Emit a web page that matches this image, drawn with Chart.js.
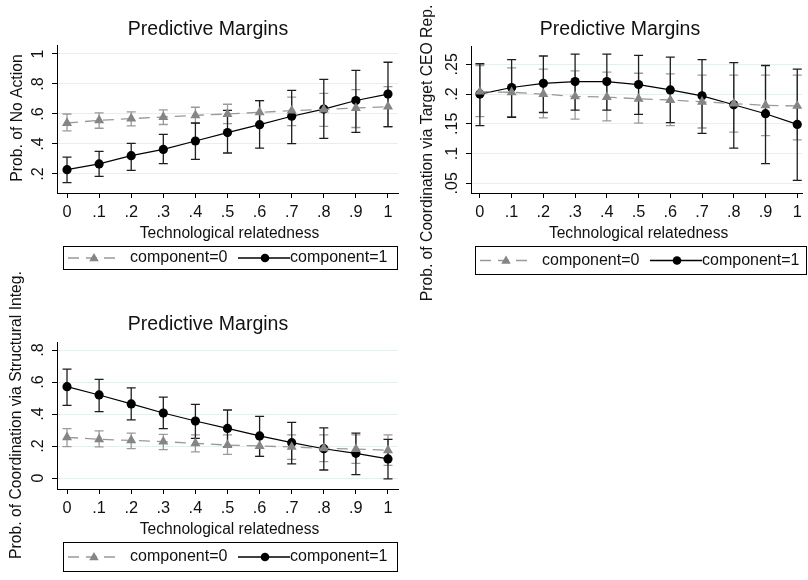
<!DOCTYPE html>
<html>
<head>
<meta charset="utf-8">
<script src="https://cdn.jsdelivr.net/npm/chart.js@4"></script>
<style>
html,body{margin:0;padding:0;background:#fff;}
#wrap{position:relative;width:808px;height:580px;overflow:hidden;}
canvas{position:absolute;left:0;top:0;}
</style>
</head>
<body>
<div id="wrap">
<canvas id="c1" width="808" height="580"></canvas>
<canvas id="c2" width="808" height="580"></canvas>
<canvas id="c3" width="808" height="580"></canvas>
</div>
<script>
// ---------- data ----------
const xValues = [0, 0.1, 0.2, 0.3, 0.4, 0.5, 0.6, 0.7, 0.8, 0.9, 1];
const xTickLabels = ["0", ".1", ".2", ".3", ".4", ".5", ".6", ".7", ".8", ".9", "1"];
const seriesNames = ["component=0", "component=1"];
const xTitle = "Technological relatedness";
const panelTitle = "Predictive Margins";

// Panel 1: Prob. of No Action
const noAction_c0    = [0.540, 0.558, 0.569, 0.580, 0.591, 0.600, 0.611, 0.622, 0.630, 0.640, 0.649];
const noAction_c0_lo = [0.487, 0.505, 0.521, 0.530, 0.537, 0.536, 0.533, 0.523, 0.518, 0.510, 0.515];
const noAction_c0_hi = [0.600, 0.607, 0.614, 0.627, 0.645, 0.665, 0.689, 0.712, 0.738, 0.762, 0.782];
const noAction_c1    = [0.229, 0.267, 0.322, 0.364, 0.420, 0.476, 0.529, 0.585, 0.633, 0.690, 0.733];
const noAction_c1_lo = [0.142, 0.184, 0.224, 0.269, 0.298, 0.340, 0.373, 0.403, 0.437, 0.478, 0.516];
const noAction_c1_hi = [0.313, 0.351, 0.404, 0.464, 0.540, 0.624, 0.689, 0.758, 0.831, 0.891, 0.945];
const noActionTicks  = [0.2, 0.4, 0.6, 0.8, 1];
const noActionLabels = [".2", ".4", ".6", ".8", "1"];
const noActionTitle  = "Prob. of No Action";

// Panel 2: Prob. of Coordination via Target CEO Rep.
const ceo_c0    = [0.204, 0.203, 0.200, 0.196, 0.195, 0.192, 0.190, 0.187, 0.184, 0.181, 0.180];
const ceo_c0_lo = [0.162, 0.162, 0.160, 0.158, 0.155, 0.151, 0.147, 0.143, 0.136, 0.130, 0.123];
const ceo_c0_hi = [0.248, 0.244, 0.242, 0.239, 0.237, 0.235, 0.234, 0.232, 0.232, 0.232, 0.232];
const ceo_c1    = [0.200, 0.211, 0.218, 0.221, 0.221, 0.216, 0.207, 0.197, 0.182, 0.167, 0.149];
const ceo_c1_lo = [0.147, 0.161, 0.169, 0.173, 0.173, 0.166, 0.152, 0.134, 0.109, 0.083, 0.055];
const ceo_c1_hi = [0.251, 0.258, 0.264, 0.267, 0.267, 0.265, 0.262, 0.258, 0.253, 0.248, 0.242];
const ceoTicks  = [0.05, 0.1, 0.15, 0.2, 0.25];
const ceoLabels = [".05", ".1", ".15", ".2", ".25"];
const ceoTitle  = "Prob. of Coordination via Target CEO Rep.";

// Panel 3: Prob. of Coordination via Structural Integ.
const si_c0    = [0.254, 0.242, 0.235, 0.227, 0.217, 0.206, 0.200, 0.194, 0.185, 0.181, 0.173];
const si_c0_lo = [0.196, 0.194, 0.183, 0.177, 0.163, 0.148, 0.135, 0.117, 0.102, 0.092, 0.079];
const si_c0_hi = [0.308, 0.294, 0.281, 0.273, 0.269, 0.269, 0.269, 0.270, 0.270, 0.269, 0.269];
const si_c1    = [0.571, 0.519, 0.463, 0.406, 0.356, 0.310, 0.263, 0.221, 0.183, 0.154, 0.119];
const si_c1_lo = [0.454, 0.415, 0.363, 0.308, 0.248, 0.194, 0.135, 0.088, 0.050, 0.021, -0.006];
const si_c1_hi = [0.681, 0.617, 0.563, 0.506, 0.460, 0.425, 0.385, 0.348, 0.313, 0.281, 0.242];
const siTicks  = [0, 0.2, 0.4, 0.6, 0.8];
const siLabels = ["0", ".2", ".4", ".6", ".8"];
const siTitle  = "Prob. of Coordination via Structural Integ.";

// ---------- style / layout ----------
const FONT = '"Liberation Sans", Arial, Helvetica, sans-serif';
const TXT = '#111';
const GRAY = '#858585';
const GRAY_LINE = '#999999';
const GRAY_CI = '#9a9a9a';
const BLACK = '#000';
const BLACK_CI = '#1e1e1e';
const GRID = '#e6eef0';

function toPts(ys) { return xValues.map((x, i) => ({ x: x, y: ys[i] })); }

function drawRot(ctx, text, x, y, size) {
  ctx.save();
  ctx.translate(x, y);
  ctx.rotate(-Math.PI / 2);
  ctx.font = size + 'px ' + FONT;
  ctx.fillStyle = TXT;
  ctx.textAlign = 'center';
  ctx.textBaseline = 'middle';
  ctx.fillText(text, 0, 0);
  ctx.restore();
}
function drawText(ctx, text, x, y, size, align) {
  ctx.save();
  ctx.font = size + 'px ' + FONT;
  ctx.fillStyle = TXT;
  ctx.textAlign = align || 'center';
  ctx.textBaseline = 'middle';
  ctx.fillText(text, x, y);
  ctx.restore();
}
function triangle(ctx, x, y, r, color) {
  ctx.beginPath();
  for (let k = 0; k < 3; k++) {
    const a = k * 2 * Math.PI / 3;
    const px = x + Math.sin(a) * r, py = y - Math.cos(a) * r;
    if (k === 0) ctx.moveTo(px, py); else ctx.lineTo(px, py);
  }
  ctx.closePath();
  ctx.fillStyle = color;
  ctx.fill();
}

function makePanel(id, p) {
  const ciPlugin = {
    id: 'ci_' + id,
    beforeDatasetsDraw(chart) {
      const ctx = chart.ctx, xs = chart.scales.x, ys = chart.scales.y;
      const sets = [[p.lo0, p.hi0, GRAY_CI], [p.lo1, p.hi1, BLACK_CI]];
      ctx.save();
      ctx.lineWidth = 1.3;
      sets.forEach(([lo, hi, col]) => {
        ctx.strokeStyle = col;
        xValues.forEach((xv, i) => {
          const px = xs.getPixelForValue(xv);
          const y1 = ys.getPixelForValue(lo[i]);
          const y2 = ys.getPixelForValue(hi[i]);
          ctx.beginPath();
          ctx.moveTo(px, y1); ctx.lineTo(px, y2);
          ctx.moveTo(px - 4.5, y1); ctx.lineTo(px + 4.5, y1);
          ctx.moveTo(px - 4.5, y2); ctx.lineTo(px + 4.5, y2);
          ctx.stroke();
        });
      });
      ctx.restore();
    },
    afterDraw(chart) {
      const ctx = chart.ctx, xs = chart.scales.x, ys = chart.scales.y;
      const ca = chart.chartArea;
      drawText(ctx, panelTitle, p.titleX, p.titleY, 19.5);
      p.yTicks.forEach((v, i) => {
        drawRot(ctx, p.yLabels[i], ca.left - 18, ys.getPixelForValue(v), 16);
      });
      drawRot(ctx, p.yTitle, p.yTitleX, p.yTitleY, 15.7);
      xValues.forEach((v, i) => {
        drawText(ctx, xTickLabels[i], xs.getPixelForValue(v), ca.bottom + 20, 16.3);
      });
      drawText(ctx, xTitle, (ca.left + ca.right) / 2 + 2, ca.bottom + 41, 15.6);
      const b = p.legend;
      ctx.save();
      ctx.strokeStyle = '#000';
      ctx.lineWidth = 1;
      ctx.strokeRect(b.x + 0.5, b.y + 0.5, b.w, b.h);
      const cy = b.y + b.h / 2 + 0.5;
      ctx.strokeStyle = GRAY_LINE;
      ctx.lineWidth = 1.3;
      ctx.setLineDash([11, 7]);
      ctx.beginPath(); ctx.moveTo(b.x + 5, cy); ctx.lineTo(b.x + 57, cy); ctx.stroke();
      ctx.setLineDash([]);
      triangle(ctx, b.x + 31, cy + 0.5, 5.5, GRAY);
      ctx.strokeStyle = BLACK;
      ctx.beginPath(); ctx.moveTo(b.x + 175, cy); ctx.lineTo(b.x + 227, cy); ctx.stroke();
      ctx.beginPath(); ctx.arc(b.x + 202, cy, 4.3, 0, Math.PI * 2); ctx.fillStyle = BLACK; ctx.fill();
      ctx.restore();
      drawText(ctx, seriesNames[0], b.x + 67, cy, 16, 'left');
      drawText(ctx, seriesNames[1], b.x + 227, cy, 16, 'left');
    }
  };

  return new Chart(document.getElementById(id), {
    type: 'line',
    data: {
      datasets: [
        {
          label: seriesNames[0],
          data: toPts(p.c0),
          borderColor: GRAY_LINE,
          borderWidth: 1.3,
          borderDash: [11, 7],
          pointStyle: 'triangle',
          pointRadius: 5.8,
          pointBackgroundColor: GRAY,
          pointBorderColor: GRAY,
          pointBorderWidth: 0,
          tension: 0,
          fill: false
        },
        {
          label: seriesNames[1],
          data: toPts(p.c1),
          borderColor: BLACK,
          borderWidth: 1.2,
          pointStyle: 'circle',
          pointRadius: 4.6,
          pointBackgroundColor: BLACK,
          pointBorderColor: BLACK,
          pointBorderWidth: 0,
          tension: 0,
          fill: false
        }
      ]
    },
    options: {
      responsive: false,
      animation: false,
      devicePixelRatio: 1,
      layout: { padding: p.pad },
      plugins: { legend: { display: false }, tooltip: { enabled: false }, title: { display: false } },
      scales: {
        x: {
          type: 'linear',
          min: p.xMin, max: p.xMax,
          afterBuildTicks: (s) => { s.ticks = xValues.map(v => ({ value: v })); },
          afterFit: (s) => { s.height = 5; },
          ticks: { display: false },
          grid: { drawOnChartArea: false, drawTicks: true, tickLength: 5, tickColor: '#000', tickWidth: 1 },
          border: { display: true, color: '#000', width: 1 }
        },
        y: {
          type: 'linear',
          min: p.yMin, max: p.yMax,
          afterBuildTicks: (s) => { s.ticks = p.yTicks.map(v => ({ value: v })); },
          afterFit: (s) => { s.width = 5; },
          ticks: { display: false },
          grid: { color: GRID, lineWidth: 1, drawTicks: true, tickLength: 5, tickColor: '#000', tickWidth: 1 },
          border: { display: true, color: '#000', width: 1 }
        }
      }
    },
    plugins: [ciPlugin]
  });
}

makePanel('c1', {
  c0: noAction_c0, lo0: noAction_c0_lo, hi0: noAction_c0_hi,
  c1: noAction_c1, lo1: noAction_c1_lo, hi1: noAction_c1_hi,
  yTicks: noActionTicks, yLabels: noActionLabels, yTitle: noActionTitle,
  pad: { left: 52, right: 410, top: 45, bottom: 382 },
  xMin: -0.0312, xMax: 1.0312, yMin: 0.0733, yMax: 1.06,
  titleX: 208, titleY: 30, yTitleX: 18, yTitleY: 118,
  legend: { x: 63, y: 246, w: 334, h: 23 }
});
makePanel('c2', {
  c0: ceo_c0, lo0: ceo_c0_lo, hi0: ceo_c0_hi,
  c1: ceo_c1, lo1: ceo_c1_lo, hi1: ceo_c1_hi,
  yTicks: ceoTicks, yLabels: ceoLabels, yTitle: ceoTitle,
  pad: { left: 466, right: 2, top: 46, bottom: 382 },
  xMin: -0.028, xMax: 1.0156, yMin: 0.0337, yMax: 0.2808,
  titleX: 620, titleY: 30, yTitleX: 428, yTitleY: 153,
  legend: { x: 475, y: 246, w: 331, h: 28 }
});
makePanel('c3', {
  c0: si_c0, lo0: si_c0_lo, hi0: si_c0_hi,
  c1: si_c1, lo1: si_c1_lo, hi1: si_c1_hi,
  yTicks: siTicks, yLabels: siLabels, yTitle: siTitle,
  pad: { left: 52, right: 410, top: 342, bottom: 86 },
  xMin: -0.0312, xMax: 1.0312, yMin: -0.06875, yMax: 0.85,
  titleX: 208, titleY: 325, yTitleX: 17, yTitleY: 415,
  legend: { x: 63, y: 542, w: 334, h: 29 }
});
</script>
</body>
</html>
